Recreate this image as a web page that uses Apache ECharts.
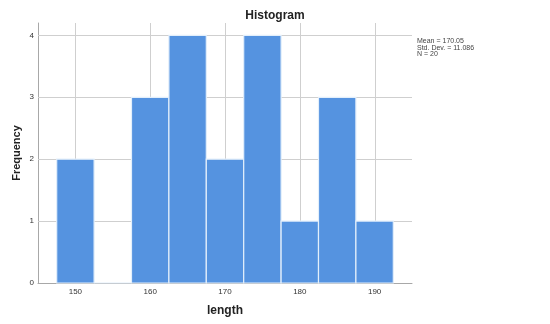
<!DOCTYPE html>
<html><head><meta charset="utf-8">
<script src="https://cdn.jsdelivr.net/npm/echarts@6/dist/echarts.min.js"></script>
<style>html,body{margin:0;padding:0;background:#fff}#c{width:550px;height:324px}</style>
</head><body><div id="c"></div>
<script>
var binStarts = [147.5, 152.5, 157.5, 162.5, 167.5, 172.5, 177.5, 182.5, 187.5];
var binWidth = 5;
var counts = [2, 0, 3, 4, 2, 4, 1, 3, 1];
var xTicks = [150, 160, 170, 180, 190];
var yTicks = [1, 2, 3, 4];
var statsLines = ['Mean = 170.05', 'Std. Dev. = 11.086', 'N = 20'];
var X_MIN = 145, X_MAX = 195, Y_MIN = 0, Y_MAX = 4.2;

var barData = binStarts.map(function (s, i) { return [s, s + binWidth, counts[i]]; });
var FONT = '"Liberation Sans", Arial, sans-serif';
var chart = echarts.init(document.getElementById('c'));
chart.setOption({
  animation: false,
  backgroundColor: '#fff',
  title: {
    text: 'Histogram', left: 'center', top: 5,
    textStyle: { fontFamily: FONT, fontSize: 12, fontWeight: 'bold', color: '#222' }
  },
  grid: { left: 38, right: 138, top: 23, bottom: 41, outerBoundsMode: 'none', containLabel: false },
  xAxis: {
    type: 'value', min: X_MIN, max: X_MAX, interval: 5,
    name: 'length', nameLocation: 'middle', nameGap: 22, nameMoveOverlap: false,
    nameTextStyle: { fontFamily: FONT, fontSize: 12, fontWeight: 'bold', color: '#222' },
    axisLine: { show: true, lineStyle: { color: '#a8a8a8', width: 1 } },
    axisTick: { show: false },
    splitLine: { show: false },
    axisLabel: {
      fontFamily: FONT, fontSize: 8, color: '#333', margin: 5,
      formatter: function (v) { return xTicks.indexOf(v) >= 0 ? String(v) : ''; }
    }
  },
  yAxis: {
    type: 'value', min: Y_MIN, max: Y_MAX, interval: 1,
    name: 'Frequency', nameLocation: 'middle', nameGap: 16, nameMoveOverlap: false,
    nameTextStyle: { fontFamily: FONT, fontSize: 11, fontWeight: 'bold', color: '#222' },
    axisLine: { show: true, lineStyle: { color: '#a8a8a8', width: 1 } },
    axisTick: { show: false },
    splitLine: { show: false },
    axisLabel: {
      fontFamily: FONT, fontSize: 8, color: '#333', margin: 4, showMaxLabel: false,
      formatter: function (v) { return (v === 0 || yTicks.indexOf(v) >= 0) ? String(v) : ''; }
    }
  },
  graphic: [{
    type: 'text', left: 417, top: 38,
    style: { text: statsLines.join('\n'), font: '7px ' + FONT, fill: '#444', lineHeight: 6.5 }
  }],
  series: [
    {
      type: 'custom', silent: true, z: 1,
      data: yTicks.map(function (t) { return [t]; }),
      renderItem: function (params, api) {
        var y = api.value(0);
        var a = api.coord([X_MIN, y]), b = api.coord([X_MAX, y]);
        return { type: 'line', shape: { x1: a[0], y1: Math.round(a[1]) + 0.5, x2: b[0], y2: Math.round(b[1]) + 0.5 },
          style: { stroke: '#cfcfcf', lineWidth: 1 } };
      }
    },
    {
      type: 'custom', silent: true, z: 1,
      data: xTicks.map(function (t) { return [t]; }),
      renderItem: function (params, api) {
        var x = api.value(0);
        var a = api.coord([x, Y_MIN]), b = api.coord([x, Y_MAX]);
        return { type: 'line', shape: { x1: Math.round(a[0]) + 0.5, y1: a[1], x2: Math.round(b[0]) + 0.5, y2: b[1] },
          style: { stroke: '#cfcfcf', lineWidth: 1 } };
      }
    },
    {
      type: 'custom', z: 2,
      data: barData,
      encode: { x: [0, 1], y: 2 },
      renderItem: function (params, api) {
        var p0 = api.coord([api.value(0), api.value(2)]);
        var p1 = api.coord([api.value(1), 0]);
        return { type: 'rect', shape: { x: p0[0], y: p0[1], width: p1[0] - p0[0], height: p1[1] - p0[1] },
          style: { fill: '#5593e0', stroke: '#e3effb', lineWidth: 1.2 } };
      }
    }
  ]
});
</script></body></html>
